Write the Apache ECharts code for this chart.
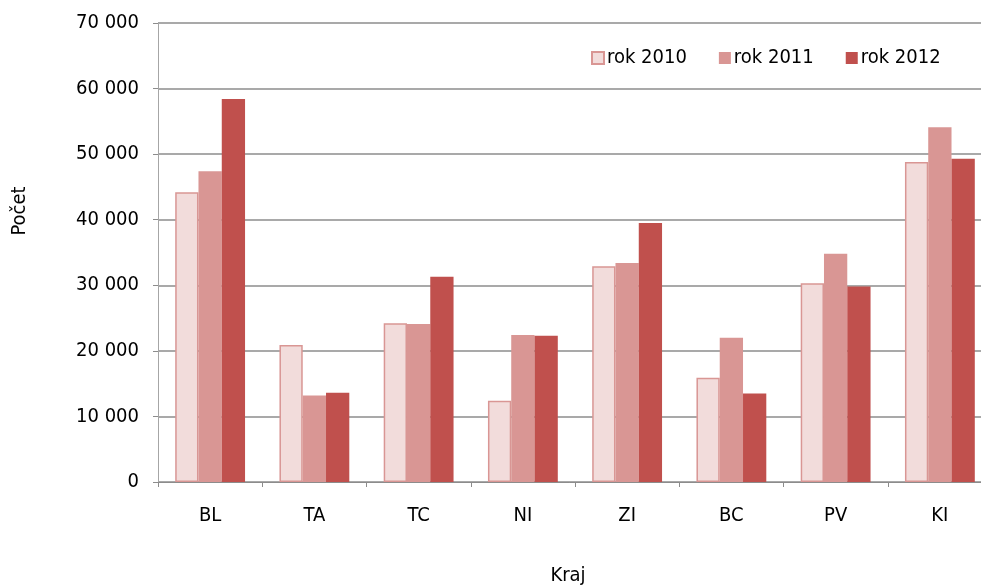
<!DOCTYPE html>
<html>
<head>
<meta charset="utf-8">
<script src="https://cdn.jsdelivr.net/npm/echarts@6/dist/echarts.min.js"></script>
<style>
  html, body { margin: 0; padding: 0; background: #fff; overflow: hidden; }
  #chart { width: 981px; height: 585px; overflow: hidden; }
</style>
</head>
<body>
<div id="chart"></div>
<script>
var categories = ["BL", "TA", "TC", "NI", "ZI", "BC", "PV", "KI"]
var rok2010 = [44200, 20900, 24200, 12400, 32900, 15900, 30300, 48800]
var rok2011 = [47400, 13200, 24100, 22400, 33400, 22000, 34800, 54100]
var rok2012 = [58400, 13600, 31300, 22300, 39500, 13500, 29800, 49300]
var yTicks = [0, 10000, 20000, 30000, 40000, 50000, 60000, 70000]

var fontName = "DejaVu Sans Condensed, DejaVu Sans"
var fontSize = 20

function fmt(v) {
  // mezera jako oddelovac tisicu
  return String(v).replace(/\B(?=(\d{3})+(?!\d))/g, " ")
}

var myChart = echarts.init(document.getElementById("chart"))
var option = {
  animation: false,
  textStyle: { fontFamily: fontName },
  grid: {
    left: 158,
    top: 23,
    width: 834,
    height: 459,
    outerBoundsMode: "none"
  },
  legend: {
    top: 43,
    left: 586,
    icon: "rect",
    itemWidth: 12,
    itemHeight: 12,
    itemGap: 32,
    textStyle: { fontSize: fontSize, color: "#000", fontFamily: fontName, padding: [0, 0, 0, -2] },
    data: ["rok 2010", "rok 2011", "rok 2012"]
  },
  graphic: [
    {
      type: "text",
      x: 20,
      y: 211,
      rotation: Math.PI / 2,
      style: {
        text: "Počet",
        fontSize: fontSize,
        fontFamily: fontName,
        fill: "#000",
        align: "center",
        verticalAlign: "middle"
      }
    }
  ],
  xAxis: {
    type: "category",
    data: categories,
    name: "Kraj",
    nameLocation: "middle",
    nameGap: 84,
    nameTextStyle: { fontSize: fontSize, color: "#000", fontFamily: fontName, padding: [0, 14, 0, 0] },
    axisLine: { lineStyle: { color: "#8c8c8c", width: 1 } },
    axisTick: { show: true, length: 5, lineStyle: { color: "#8c8c8c" } },
    axisLabel: { fontSize: fontSize, color: "#000", margin: 24, fontFamily: fontName }
  },
  yAxis: {
    type: "value",
    min: 0,
    max: 70000,
    interval: 10000,
    axisLine: { show: true, lineStyle: { color: "#a6a6a6", width: 1 } },
    axisTick: { show: true, length: 5, lineStyle: { color: "#8c8c8c" } },
    axisLabel: {
      fontSize: fontSize,
      color: "#000",
      margin: 19,
      fontFamily: fontName,
      formatter: function (v) {
        return yTicks.indexOf(v) >= 0 ? fmt(v) : ""
      }
    },
    splitLine: { lineStyle: { color: "#8c8c8c", width: 1.5 } }
  },
  series: [
    {
      name: "rok 2010",
      type: "bar",
      data: rok2010,
      barGap: "0%",
      barCategoryGap: "33%",
      itemStyle: { color: "#f2dcdb", borderColor: "#d99694", borderWidth: 1.5 }
    },
    {
      name: "rok 2011",
      type: "bar",
      data: rok2011,
      itemStyle: { color: "#d99694" }
    },
    {
      name: "rok 2012",
      type: "bar",
      data: rok2012,
      itemStyle: { color: "#c0504d" }
    }
  ]
}
myChart.setOption(option)
window.addEventListener("resize", function () {
  myChart.resize()
})
</script>
</body>
</html>
